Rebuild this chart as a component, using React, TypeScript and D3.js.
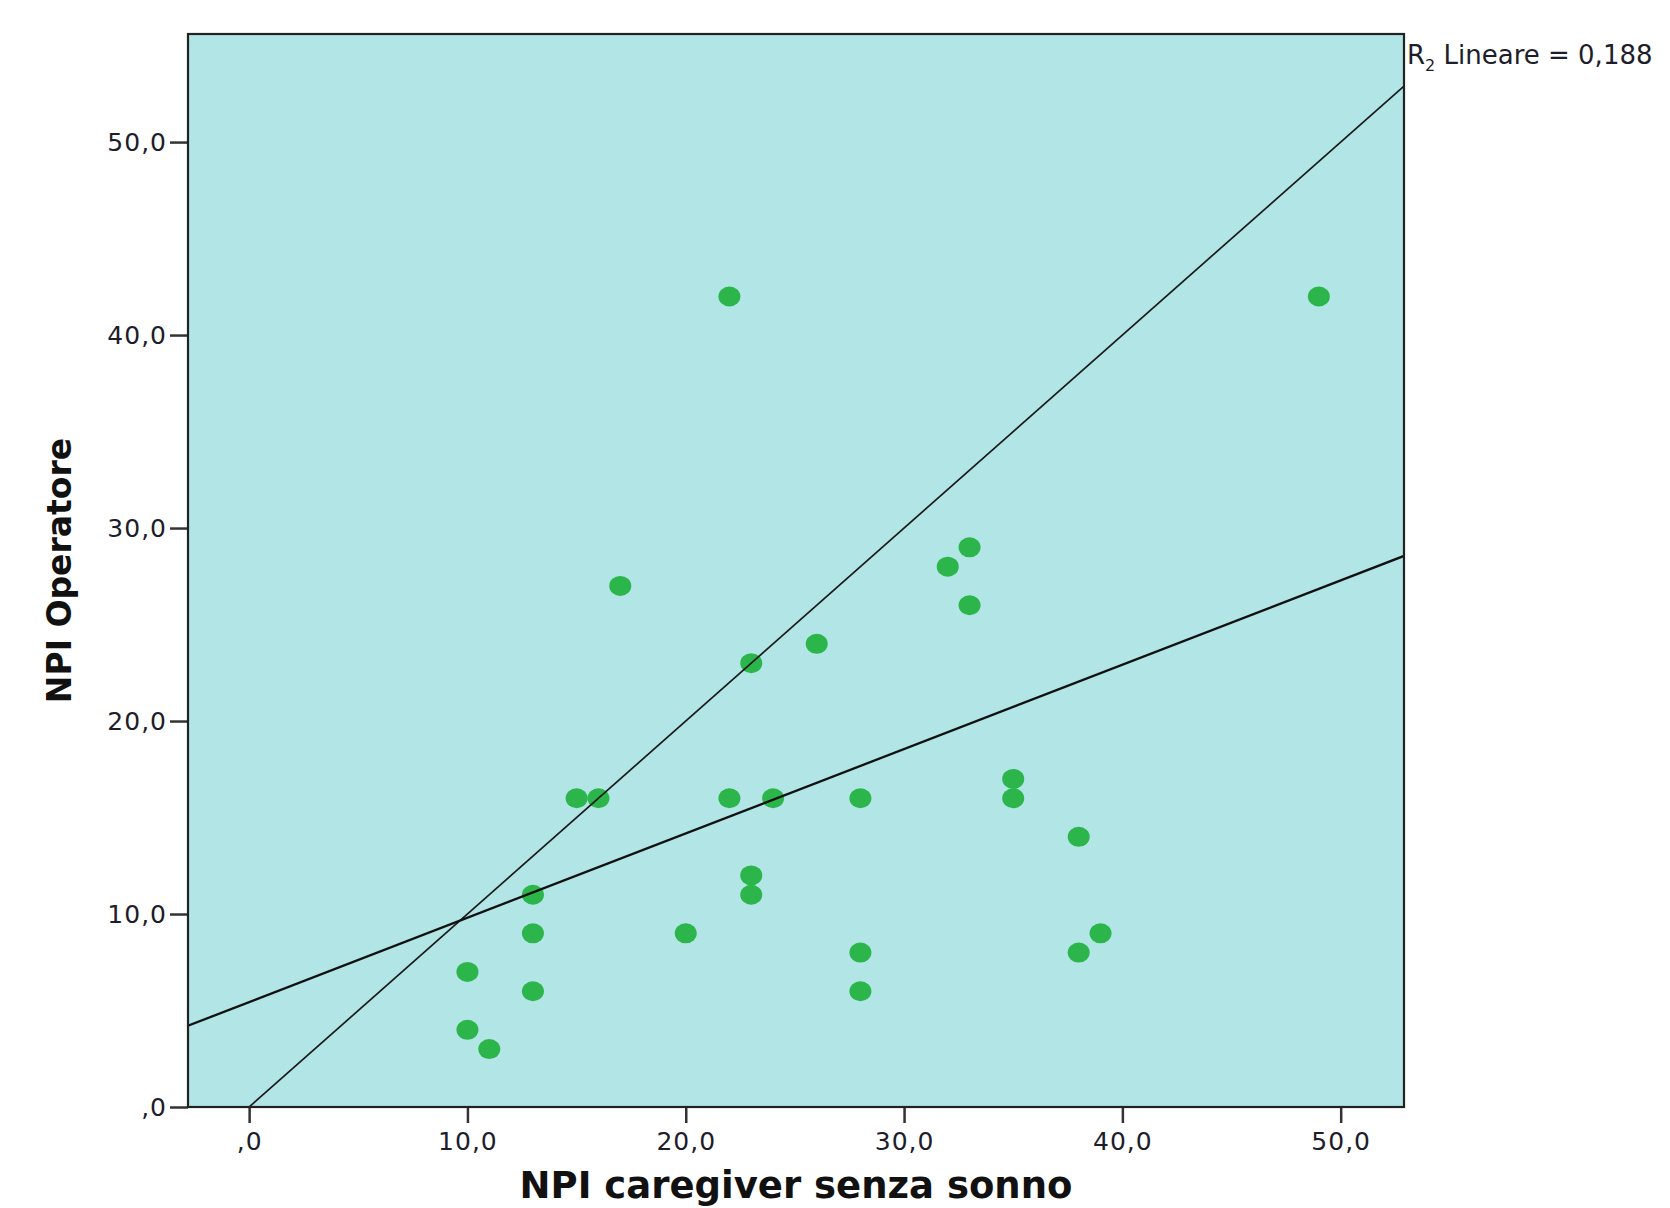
import * as d3 from 'd3';
import { useEffect, useRef } from 'react';

// NPI caregiver senza sonno (x) vs NPI Operatore (y), one entry per patient
const npiCaregiver = [22, 49, 17, 23, 26, 32, 33, 33, 15, 16, 22, 24, 28, 35, 35, 38, 13, 23, 23, 13, 20, 39, 28, 38, 10, 13, 28, 10, 11];
const npiOperatore = [42, 42, 27, 23, 24, 28, 29, 26, 16, 16, 16, 16, 16, 17, 16, 14, 11, 12, 11, 9, 9, 9, 8, 8, 7, 6, 6, 4, 3];

const xTicks = [0, 10, 20, 30, 40, 50];
const yTicks = [0, 10, 20, 30, 40, 50];
const tickLabels = [',0', '10,0', '20,0', '30,0', '40,0', '50,0'];
const xDomain = [-2.8, 52.9];
const yDomain = [0, 55.6];

const xTitle = 'NPI caregiver senza sonno';
const yTitle = 'NPI Operatore';
const fitLabel = ' Lineare = 0,188';

const W = 1670;
const H = 1208;
const plot = { left: 188, top: 34, right: 1404, bottom: 1107 };
const font = 'DejaVu Sans, Verdana, sans-serif';

function App() {
  const svgRef = useRef<SVGSVGElement>(null);

  useEffect(() => {
    document.body.style.margin = '0';
    document.body.style.overflow = 'hidden';

    const svg = d3.select(svgRef.current);
    svg.selectAll('*').remove();

    const x = d3.scaleLinear().domain(xDomain).range([plot.left, plot.right]);
    const y = d3.scaleLinear().domain(yDomain).range([plot.bottom, plot.top]);

    const points = npiCaregiver.map((v, i) => ({ x: v, y: npiOperatore[i] }));

    // least squares fit
    const mx = d3.mean(points, d => d.x)!;
    const my = d3.mean(points, d => d.y)!;
    const sxy = d3.sum(points, d => (d.x - mx) * (d.y - my));
    const sxx = d3.sum(points, d => (d.x - mx) ** 2);
    const slope = sxy / sxx;
    const intercept = my - slope * mx;

    svg
      .append('defs')
      .append('clipPath')
      .attr('id', 'plot-clip')
      .append('rect')
      .attr('x', plot.left)
      .attr('y', plot.top)
      .attr('width', plot.right - plot.left)
      .attr('height', plot.bottom - plot.top);

    svg
      .append('rect')
      .attr('x', plot.left)
      .attr('y', plot.top)
      .attr('width', plot.right - plot.left)
      .attr('height', plot.bottom - plot.top)
      .attr('fill', '#b2e5e6');

    const inner = svg.append('g').attr('clip-path', 'url(#plot-clip)');

    inner
      .selectAll('.dot')
      .data(points)
      .join('ellipse')
      .attr('class', 'dot')
      .attr('cx', d => x(d.x))
      .attr('cy', d => y(d.y))
      .attr('rx', 11)
      .attr('ry', 10)
      .attr('fill', '#2bb54a');

    const line = d3
      .line<number>()
      .x(d => x(d))
      .y(d => y(d));

    // reference line y = x
    inner
      .append('path')
      .attr('d', line(xDomain))
      .attr('fill', 'none')
      .attr('stroke', '#1a1a1a')
      .attr('stroke-width', 1.7);

    const fit = d3
      .line<number>()
      .x(d => x(d))
      .y(d => y(intercept + slope * d));
    inner
      .append('path')
      .attr('d', fit(xDomain))
      .attr('fill', 'none')
      .attr('stroke', '#111')
      .attr('stroke-width', 2.3);

    const xAxis = d3
      .axisBottom(x)
      .tickValues(xTicks)
      .tickFormat((d, i) => tickLabels[i])
      .tickSize(16)
      .tickPadding(9);
    const yAxis = d3
      .axisLeft(y)
      .tickValues(yTicks)
      .tickFormat((d, i) => tickLabels[i])
      .tickSize(18)
      .tickPadding(3);

    const gx = svg
      .append('g')
      .attr('transform', `translate(0,${plot.bottom})`)
      .call(xAxis);
    const gy = svg
      .append('g')
      .attr('transform', `translate(${plot.left},0)`)
      .call(yAxis);

    [gx, gy].forEach(g => {
      g.select('.domain').remove();
      g.selectAll('.tick line').attr('stroke', '#333').attr('stroke-width', 2.5);
      g.selectAll('.tick text')
        .attr('fill', '#1d1d2b')
        .style('font-family', font)
        .style('font-size', '25px')
        .style('letter-spacing', '1px');
    });

    svg
      .append('rect')
      .attr('x', plot.left)
      .attr('y', plot.top)
      .attr('width', plot.right - plot.left)
      .attr('height', plot.bottom - plot.top)
      .attr('fill', 'none')
      .attr('stroke', '#222')
      .attr('stroke-width', 2.2);

    svg
      .append('text')
      .attr('x', (plot.left + plot.right) / 2)
      .attr('y', 1198)
      .attr('text-anchor', 'middle')
      .style('font-family', font)
      .style('font-weight', 'bold')
      .style('font-size', '37px')
      .attr('fill', '#111')
      .text(xTitle);

    svg
      .append('text')
      .attr('transform', `translate(71,${(plot.top + plot.bottom) / 2}) rotate(-90)`)
      .attr('text-anchor', 'middle')
      .style('font-family', font)
      .style('font-weight', 'bold')
      .style('font-size', '33px')
      .attr('fill', '#111')
      .text(yTitle);

    const r2 = svg
      .append('text')
      .attr('x', plot.right + 3)
      .attr('y', 64)
      .style('font-family', font)
      .style('font-size', '26px')
      .attr('fill', '#1d1d2b');
    r2.append('tspan').text('R');
    r2.append('tspan').attr('dy', 7).style('font-size', '16px').text('2');
    r2.append('tspan').attr('dy', -7).text(fitLabel);
  }, []);

  return <svg ref={svgRef} width={W} height={H} style={{ display: 'block' }} />;
}

export default App;
